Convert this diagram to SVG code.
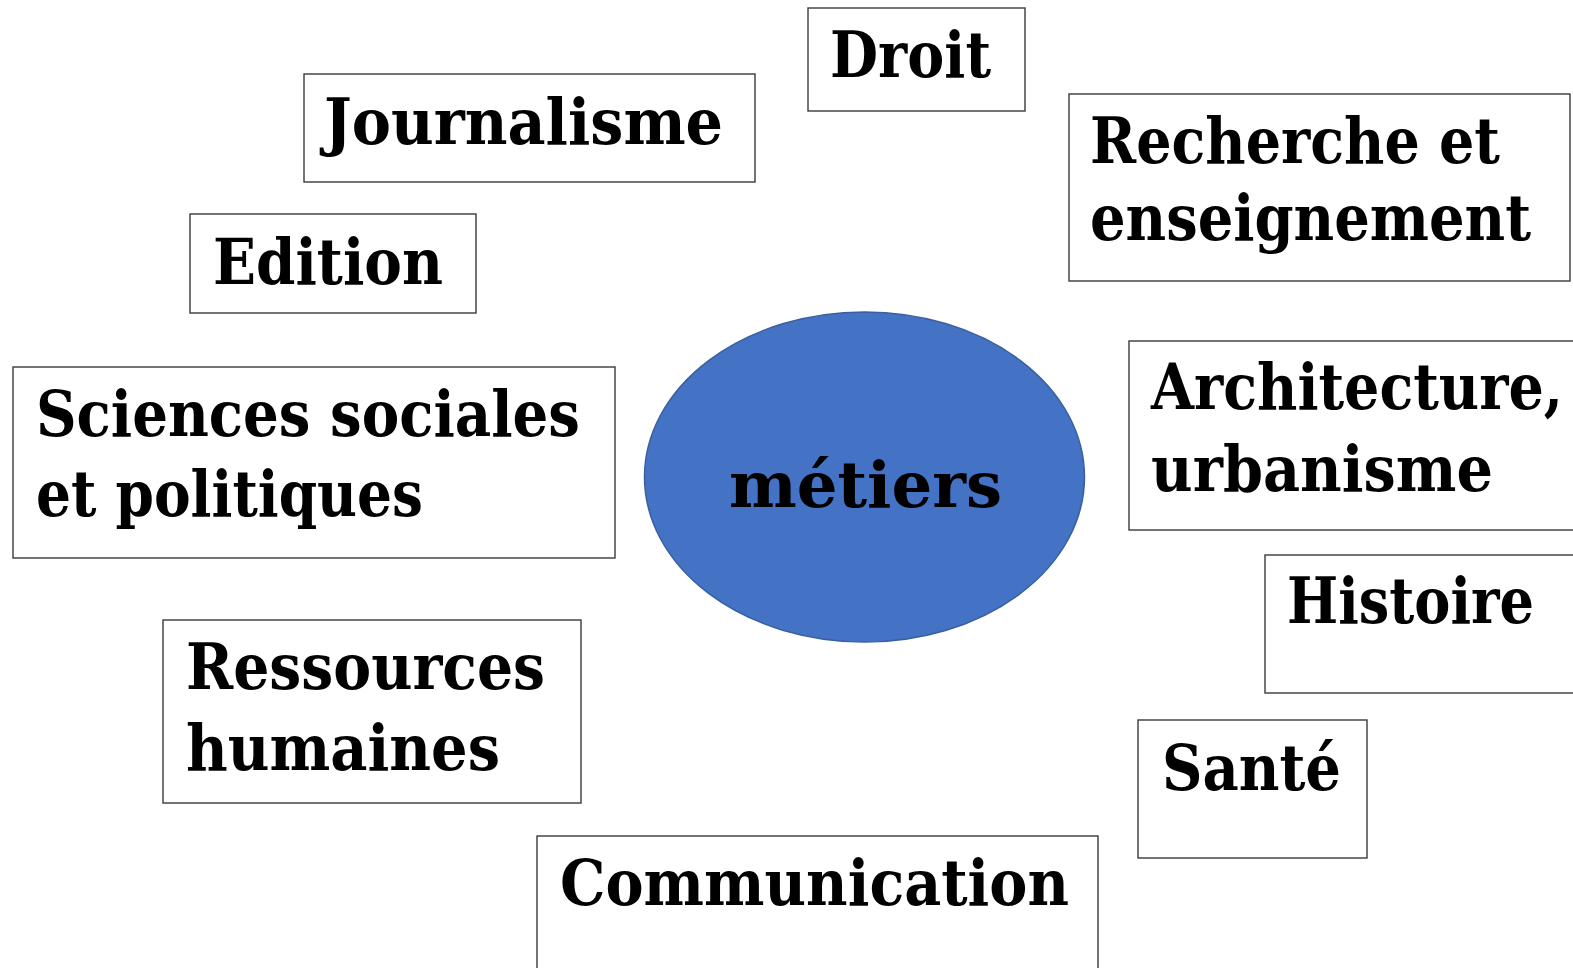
<svg xmlns="http://www.w3.org/2000/svg" width="1573" height="968" viewBox="0 0 1573 968">
<style>
.box{fill:#fff;stroke:#3a3a3a;stroke-width:1.4}
.t{font-family:"DejaVu Serif","Liberation Serif",serif;font-weight:bold;font-size:64px;fill:#000}
</style>
<rect width="1573" height="968" fill="#fff"/>
<g id="connectors"></g>
<g id="center">
<ellipse cx="864.5" cy="477" rx="220" ry="165" fill="#4472C4" stroke="#3A5F9F" stroke-width="1.5"/>
<text class="t" x="729" y="507" textLength="273" lengthAdjust="spacingAndGlyphs">métiers</text>
</g>
<g id="droit">
<rect class="box" x="808" y="8" width="217" height="103"/>
<text class="t" x="830" y="77" textLength="161" lengthAdjust="spacingAndGlyphs">Droit</text>
</g>
<g id="journalisme">
<rect class="box" x="304" y="74" width="451" height="108"/>
<text class="t" x="324" y="144" textLength="399" lengthAdjust="spacingAndGlyphs">Journalisme</text>
</g>
<g id="recherche">
<rect class="box" x="1069" y="94" width="501" height="187"/>
<text class="t" x="1090" y="163" textLength="410" lengthAdjust="spacingAndGlyphs">Recherche et</text>
<text class="t" x="1090" y="240" textLength="441" lengthAdjust="spacingAndGlyphs">enseignement</text>
</g>
<g id="edition">
<rect class="box" x="190" y="214" width="286" height="99"/>
<text class="t" x="213" y="284" textLength="230" lengthAdjust="spacingAndGlyphs">Edition</text>
</g>
<g id="sciences">
<rect class="box" x="13" y="367" width="602" height="191"/>
<text class="t" x="36" y="436" textLength="544" lengthAdjust="spacingAndGlyphs">Sciences sociales</text>
<text class="t" x="36" y="516" textLength="387" lengthAdjust="spacingAndGlyphs">et politiques</text>
</g>
<g id="architecture">
<rect class="box" x="1129" y="341" width="460" height="189"/>
<text class="t" x="1151" y="409" textLength="412" lengthAdjust="spacingAndGlyphs">Architecture,</text>
<text class="t" x="1151" y="491" textLength="342" lengthAdjust="spacingAndGlyphs">urbanisme</text>
</g>
<g id="histoire">
<rect class="box" x="1265" y="555" width="330" height="138"/>
<text class="t" x="1287" y="623" textLength="247" lengthAdjust="spacingAndGlyphs">Histoire</text>
</g>
<g id="sante">
<rect class="box" x="1138" y="720" width="229" height="138"/>
<text class="t" x="1162" y="790" textLength="179" lengthAdjust="spacingAndGlyphs">Santé</text>
</g>
<g id="ressources">
<rect class="box" x="163" y="620" width="418" height="183"/>
<text class="t" x="186" y="689" textLength="359" lengthAdjust="spacingAndGlyphs">Ressources</text>
<text class="t" x="186" y="770" textLength="314" lengthAdjust="spacingAndGlyphs">humaines</text>
</g>
<g id="communication">
<rect class="box" x="537" y="836" width="561" height="150"/>
<text class="t" x="560" y="905" textLength="509" lengthAdjust="spacingAndGlyphs">Communication</text>
</g>
</svg>
